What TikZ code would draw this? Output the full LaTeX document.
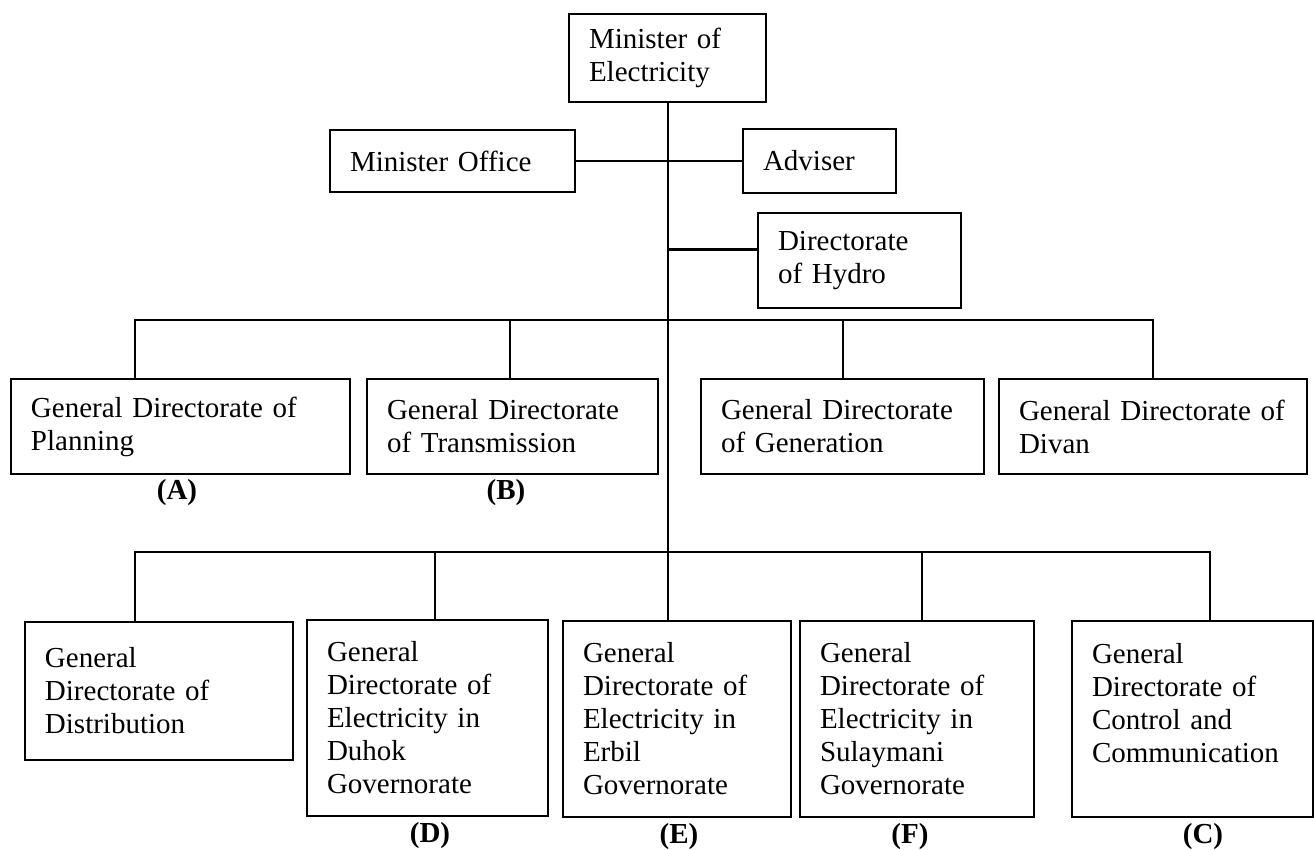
\documentclass[tikz,border=0pt]{standalone}
\usepackage{fontspec}
\setmainfont{Liberation Serif}

\begin{document}
\begin{tikzpicture}[x=.5pt,y=-.5pt,
  box/.style={draw,line width=1pt,anchor=north west,align=left,inner xsep=10pt,inner ysep=0pt,text width=#1,font=\fontsize{14.5}{16.5}\selectfont},
  tag/.style={font=\bfseries\fontsize{14.5}{16.5}\selectfont},
  link/.style={line width=1pt}]
\useasboundingbox (0,0) rectangle (1314,850);
\node[box=78.5pt,minimum height=44pt] (min) at (568,13) {Minister of\\Electricity};
\node[box=102.5pt,minimum height=31pt] (off) at (329,129) {Minister Office};
\node[box=56.5pt,minimum height=32pt] (adv) at (742,128) {Adviser};
\node[box=81.5pt,minimum height=47.5pt] (hyd) at (757,212) {Directorate\\of Hydro};
\node[box=149.5pt,minimum height=47.5pt] (gA) at (10,378) {General Directorate of\\Planning};
\node[box=125.5pt,minimum height=47.5pt] (gB) at (366,378) {General Directorate\\of Transmission};
\node[box=121.5pt,minimum height=47.5pt] (gG) at (700,378) {General Directorate\\of Generation};
\node[box=134pt,minimum height=47.5pt] (gV) at (998,378) {General Directorate of\\Divan};
\node[box=114pt,minimum height=69pt] (gDi) at (24,621) {General\\Directorate of\\Distribution};
\node[box=100.5pt,minimum height=98pt] (gD) at (306,619) {General\\Directorate of\\Electricity in\\Duhok\\Governorate};
\node[box=94pt,minimum height=98pt] (gE) at (562,620) {General\\Directorate of\\Electricity in\\Erbil\\Governorate};
\node[box=97pt,minimum height=98pt] (gF) at (799,620) {General\\Directorate of\\Electricity in\\Sulaymani\\Governorate};
\node[box=100.5pt,minimum height=98pt] (gC) at (1071,620) {General\\Directorate of\\Control and\\Communication\\\mbox{}};
\node[tag] (tA) at (177,493) {(A)};
\node[tag] (tB) at (506,493) {(B)};
\node[tag] (tD) at (430,836) {(D)};
\node[tag] (tE) at (679,837) {(E)};
\node[tag] (tF) at (910,837) {(F)};
\node[tag] (tC) at (1203,837) {(C)};
\coordinate (bus2) at (667,320);
\coordinate (bus3) at (667,552);
\draw[link] (min.south) -- (min.south |- gE.north);
\draw[link] (off.east) -- (adv.west);
\draw[line width=1.5pt] ([yshift=5.25pt]hyd.west) -- ([yshift=5.25pt]hyd.west -| min.south);
\draw[link] ([xshift=-22.75pt]gA.north) |- (bus2) -| (gV.north);
\draw[link] ([xshift=-1.25pt]gB.north) -- ([xshift=-1.25pt]gB.north |- bus2);
\draw[link] (gG.north) -- (gG.north |- bus2);
\draw[link] ([xshift=-12pt]gDi.north) |- (bus3) -| ([xshift=8.5pt]gC.north);
\draw[link] ([xshift=3.5pt]gD.north) -- ([xshift=3.5pt]gD.north |- bus3);
\draw[link] ([xshift=2.5pt]gF.north) -- ([xshift=2.5pt]gF.north |- bus3);
\end{tikzpicture}
\end{document}
